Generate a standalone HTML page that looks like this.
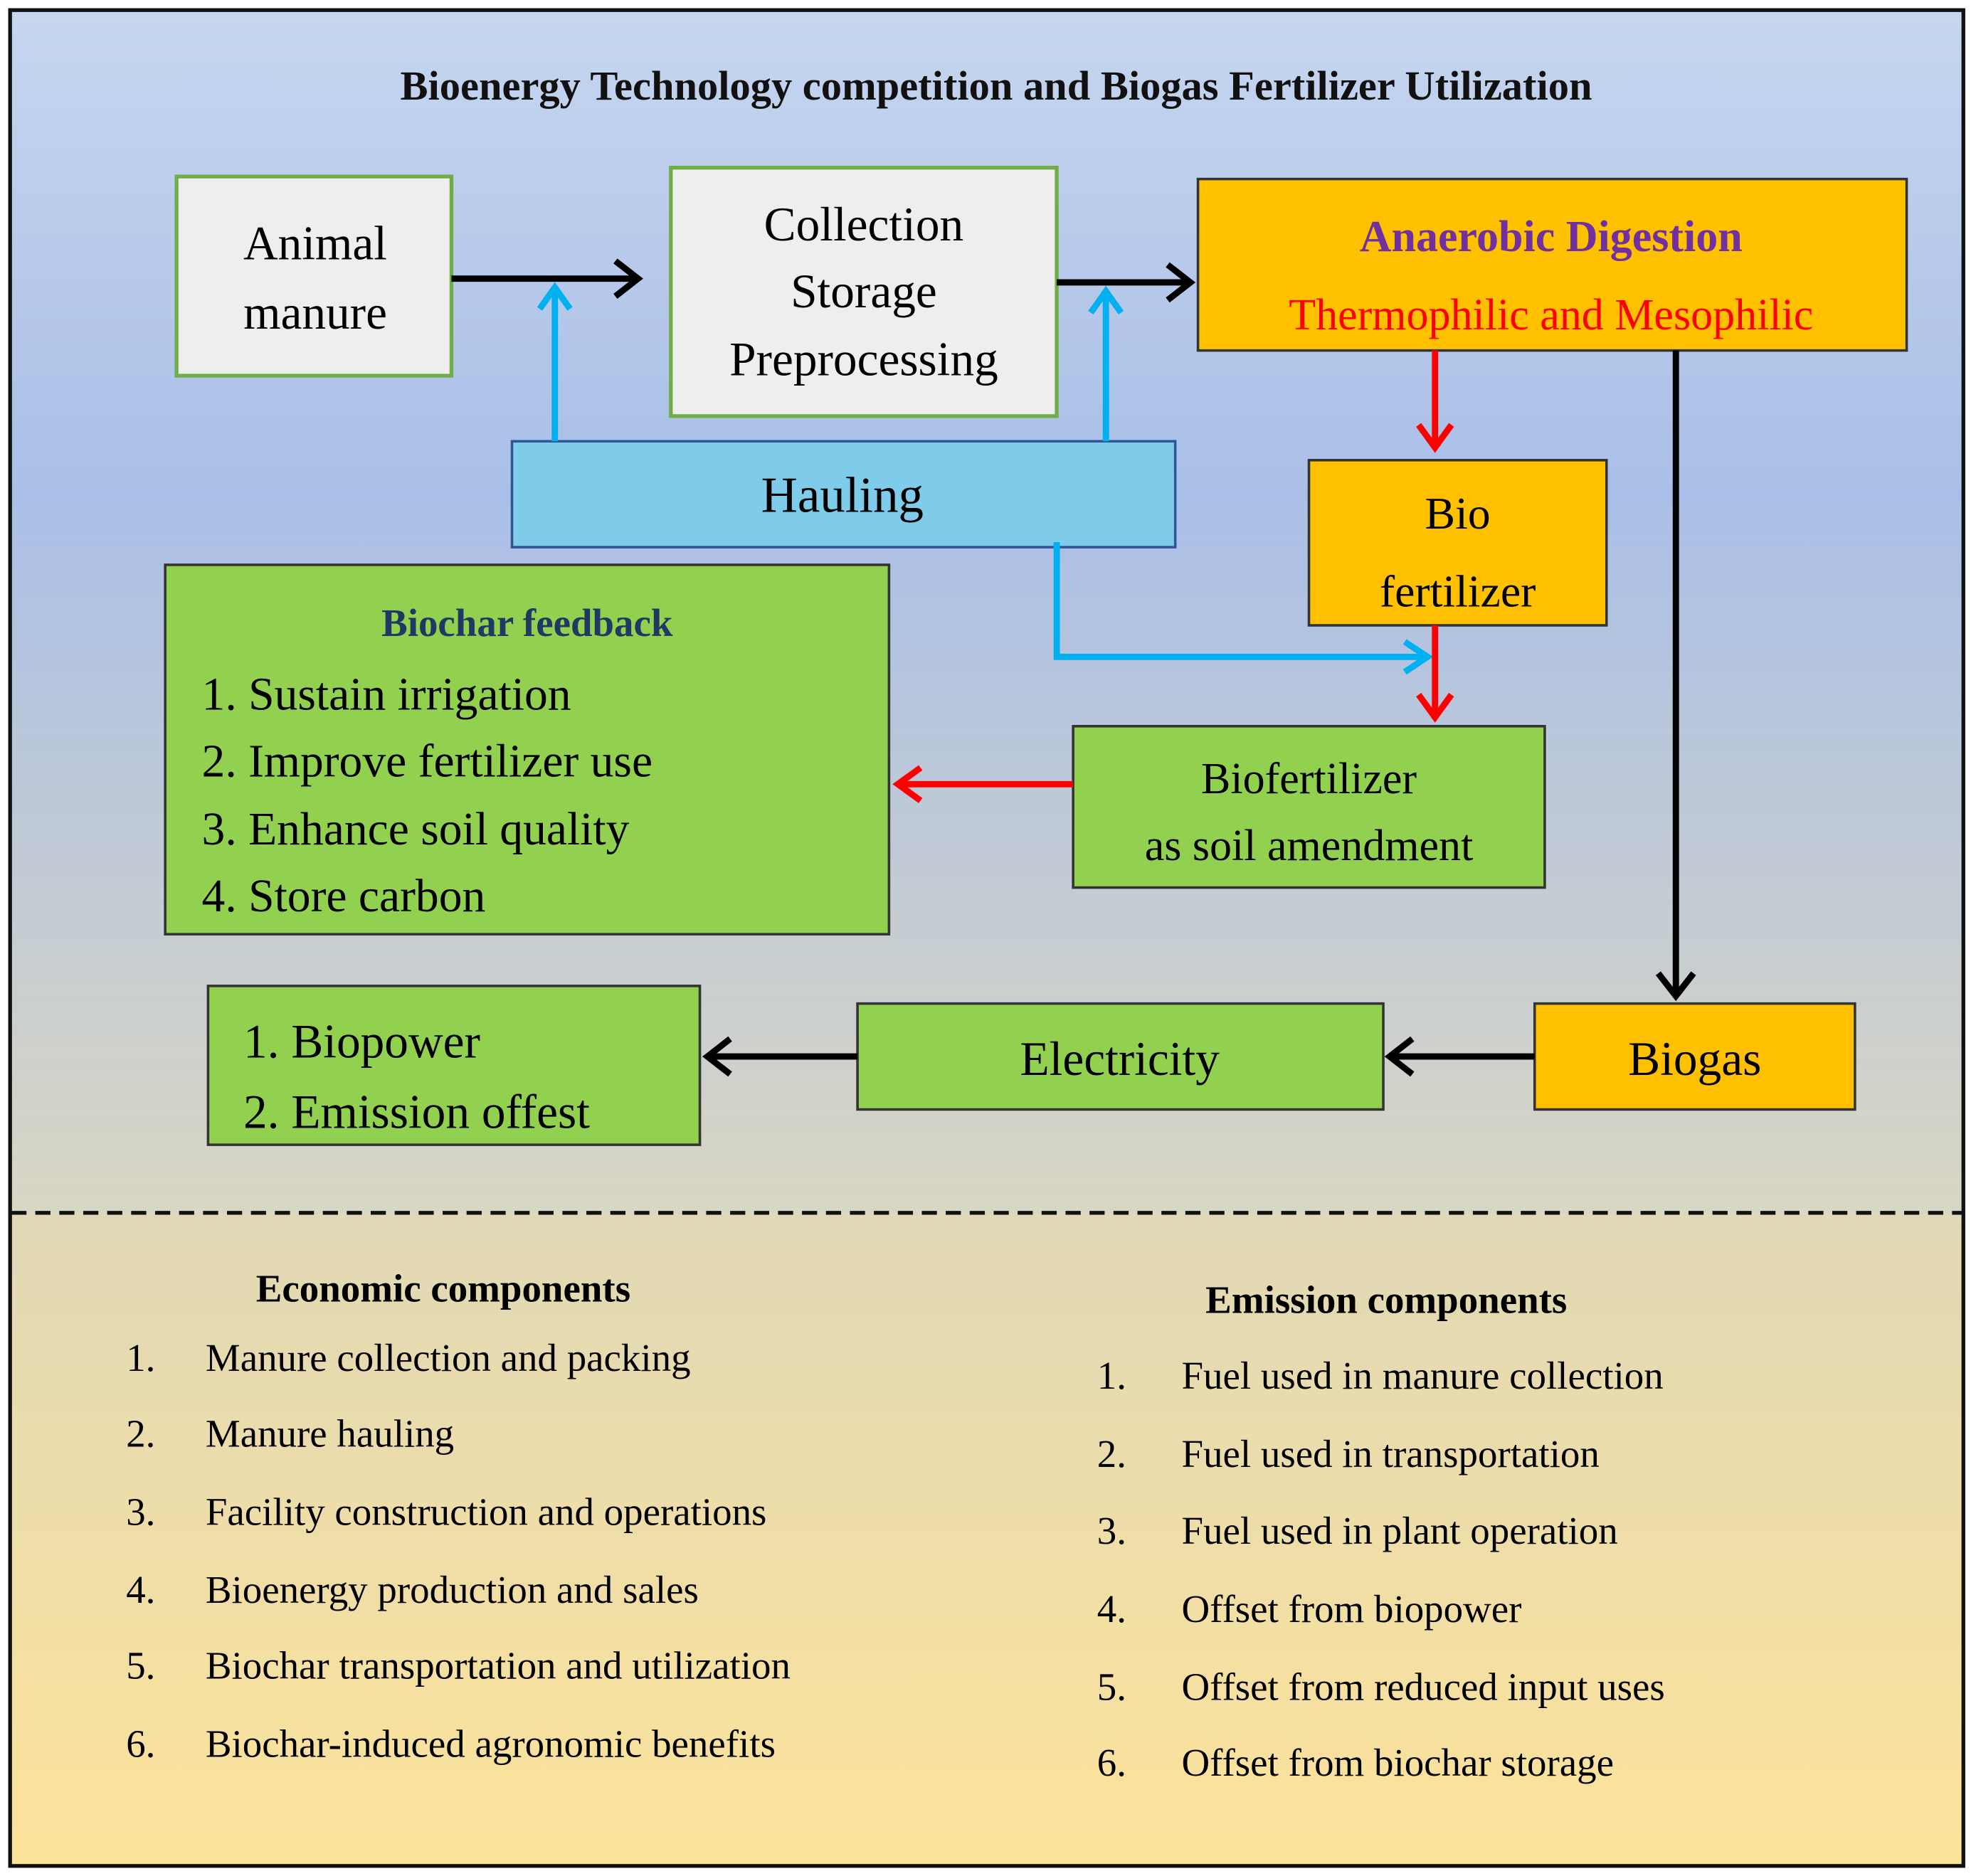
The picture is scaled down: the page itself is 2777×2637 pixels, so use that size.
<!DOCTYPE html>
<html><head><meta charset="utf-8"><style>
html,body{margin:0;padding:0;background:#fff;}
svg{display:block;}
text{font-family:"Liberation Serif",serif;dominant-baseline:central;}
</style></head><body>
<svg width="2777" height="2637" viewBox="0 0 1567 1488" preserveAspectRatio="none" xmlns="http://www.w3.org/2000/svg">
<defs>
<linearGradient id="top" x1="0" y1="0" x2="0" y2="1">
<stop offset="0" stop-color="#c6d6ef"/>
<stop offset="0.4" stop-color="#aabfe7"/>
<stop offset="1" stop-color="#d8d6c4"/>
</linearGradient>
<linearGradient id="bot" x1="0" y1="0" x2="0" y2="1">
<stop offset="0" stop-color="#e0d8b6"/>
<stop offset="1" stop-color="#fde39a"/>
</linearGradient>
<marker id="ak" markerWidth="10" markerHeight="10" refX="8" refY="5" orient="auto" markerUnits="userSpaceOnUse" viewBox="0 0 10 10"><path d="M1,0 L9,5 L1,10" fill="none" stroke="#000" stroke-width="2"/></marker>
</defs>
<rect x="0" y="0" width="1567" height="1488" fill="#fff"/>
<rect x="9" y="9" width="1547" height="954" fill="url(#top)"/>
<rect x="9" y="963" width="1547" height="516" fill="url(#bot)"/>
<rect x="8" y="8" width="1549" height="1472" fill="none" stroke="#111" stroke-width="3"/>
<line x1="9" y1="962" x2="1556" y2="962" stroke="#111" stroke-width="3" stroke-dasharray="12,7"/>

<text x="790" y="68" font-size="33" font-weight="bold" text-anchor="middle" fill="#111">Bioenergy Technology competition and Biogas Fertilizer Utilization</text>

<!-- boxes -->
<rect x="140" y="140" width="218" height="158" fill="#eeeeee" stroke="#70ad47" stroke-width="3"/>
<text x="250" y="193" font-size="38" text-anchor="middle">Animal</text>
<text x="250" y="248" font-size="38" text-anchor="middle">manure</text>

<rect x="532" y="133" width="306" height="197" fill="#eeeeee" stroke="#70ad47" stroke-width="3"/>
<text x="685" y="178" font-size="38" text-anchor="middle">Collection</text>
<text x="685" y="231" font-size="38" text-anchor="middle">Storage</text>
<text x="685" y="285" font-size="38" text-anchor="middle">Preprocessing</text>

<rect x="950" y="142" width="562" height="136" fill="#ffc000" stroke="#333" stroke-width="2"/>
<text x="1230" y="188" font-size="35" font-weight="bold" text-anchor="middle" fill="#7030a0">Anaerobic Digestion</text>
<text x="1230" y="250" font-size="35" text-anchor="middle" fill="#ff0000">Thermophilic and Mesophilic</text>

<rect x="406" y="350" width="526" height="84" fill="#7ecbea" stroke="#2f5597" stroke-width="2"/>
<text x="668" y="393" font-size="40" text-anchor="middle">Hauling</text>

<rect x="1038" y="365" width="236" height="131" fill="#ffc000" stroke="#333" stroke-width="2"/>
<text x="1156" y="407" font-size="36" text-anchor="middle">Bio</text>
<text x="1156" y="469" font-size="36" text-anchor="middle">fertilizer</text>

<rect x="131" y="448" width="574" height="293" fill="#92d050" stroke="#333" stroke-width="2"/>
<text x="418" y="494" font-size="31" font-weight="bold" text-anchor="middle" fill="#1f3864">Biochar feedback</text>
<text x="160" y="551" font-size="37">1. Sustain irrigation</text>
<text x="160" y="604" font-size="37">2. Improve fertilizer use</text>
<text x="160" y="658" font-size="37">3. Enhance soil quality</text>
<text x="160" y="711" font-size="37">4. Store carbon</text>

<rect x="851" y="576" width="374" height="128" fill="#92d050" stroke="#333" stroke-width="2"/>
<text x="1038" y="618" font-size="35" text-anchor="middle">Biofertilizer</text>
<text x="1038" y="671" font-size="35" text-anchor="middle">as soil amendment</text>

<rect x="1217" y="796" width="254" height="84" fill="#ffc000" stroke="#333" stroke-width="2"/>
<text x="1344" y="840" font-size="38" text-anchor="middle">Biogas</text>

<rect x="680" y="796" width="417" height="84" fill="#92d050" stroke="#333" stroke-width="2"/>
<text x="888" y="840" font-size="38" text-anchor="middle">Electricity</text>

<rect x="165" y="782" width="390" height="126" fill="#92d050" stroke="#333" stroke-width="2"/>
<text x="193" y="826" font-size="38">1. Biopower</text>
<text x="193" y="882" font-size="38">2. Emission offest</text>

<!-- arrows -->
<g stroke-width="5" fill="none">
<line x1="358" y1="221" x2="505" y2="221" stroke="#000"/>
<path d="M488,207 L506,221 L488,235" stroke="#000"/>
<line x1="838" y1="224" x2="942" y2="224" stroke="#000"/>
<path d="M926,210 L944,224 L926,238" stroke="#000"/>
<line x1="1329" y1="278" x2="1329" y2="788" stroke="#000"/>
<path d="M1315,772 L1329,790 L1343,772" stroke="#000"/>
<line x1="1217" y1="838" x2="1104" y2="838" stroke="#000"/>
<path d="M1120,824 L1102,838 L1120,852" stroke="#000"/>
<line x1="680" y1="838" x2="563" y2="838" stroke="#000"/>
<path d="M579,824 L561,838 L579,852" stroke="#000"/>

<line x1="440" y1="350" x2="440" y2="230" stroke="#00b0f0"/>
<path d="M428,245 L440,228 L452,245" stroke="#00b0f0"/>
<line x1="877" y1="350" x2="877" y2="233" stroke="#00b0f0"/>
<path d="M865,248 L877,231 L889,248" stroke="#00b0f0"/>
<path d="M838,430 L838,521 L1130,521" stroke="#00b0f0"/>
<path d="M1114,509 L1132,521 L1114,533" stroke="#00b0f0"/>

<line x1="1138" y1="278" x2="1138" y2="352" stroke="#ff0000"/>
<path d="M1125,337 L1138,355 L1151,337" stroke="#ff0000"/>
<line x1="1138" y1="496" x2="1138" y2="566" stroke="#ff0000"/>
<path d="M1125,551 L1138,569 L1151,551" stroke="#ff0000"/>
<line x1="851" y1="622" x2="715" y2="622" stroke="#ff0000"/>
<path d="M730,609 L712,622 L730,635" stroke="#ff0000"/>
</g>

<!-- lower section -->
<text x="203" y="1022" font-size="31" font-weight="bold">Economic components</text>
<g font-size="31">
<text x="100" y="1077">1.</text><text x="163" y="1077">Manure collection and packing</text>
<text x="100" y="1137">2.</text><text x="163" y="1137">Manure hauling</text>
<text x="100" y="1199">3.</text><text x="163" y="1199">Facility construction and operations</text>
<text x="100" y="1261">4.</text><text x="163" y="1261">Bioenergy production and sales</text>
<text x="100" y="1321">5.</text><text x="163" y="1321">Biochar transportation and utilization</text>
<text x="100" y="1383">6.</text><text x="163" y="1383">Biochar-induced agronomic benefits</text>
</g>
<text x="956" y="1031" font-size="31" font-weight="bold">Emission components</text>
<g font-size="31">
<text x="870" y="1091">1.</text><text x="937" y="1091">Fuel used in manure collection</text>
<text x="870" y="1153">2.</text><text x="937" y="1153">Fuel used in transportation</text>
<text x="870" y="1214">3.</text><text x="937" y="1214">Fuel used in plant operation</text>
<text x="870" y="1276">4.</text><text x="937" y="1276">Offset from biopower</text>
<text x="870" y="1338">5.</text><text x="937" y="1338">Offset from reduced input uses</text>
<text x="870" y="1398">6.</text><text x="937" y="1398">Offset from biochar storage</text>
</g>
</svg>
</body></html>
